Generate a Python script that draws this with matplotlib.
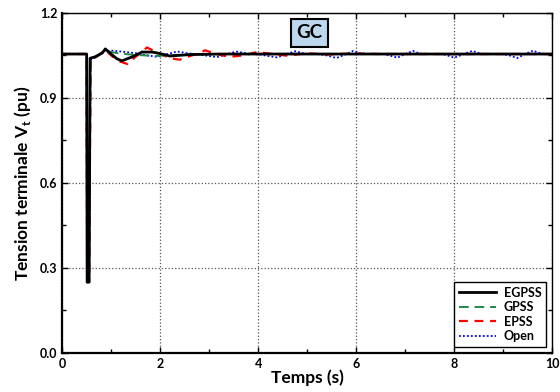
import numpy as np
import matplotlib.pyplot as plt
from matplotlib.ticker import MultipleLocator

plt.rcParams['font.family'] = ['Lato', 'DejaVu Sans']
plt.rcParams['font.weight'] = 'bold'
plt.rcParams['mathtext.fontset'] = 'custom'
plt.rcParams['mathtext.bf'] = 'Lato:bold'
plt.rcParams['mathtext.rm'] = 'Lato:bold'

# reponses de la tension terminale (pu) en fonction du temps (s)
t_egpss = [0, 0.5, 0.51, 0.55, 0.57, 0.67, 0.82, 0.88, 1.02, 1.12, 1.22, 1.43, 1.63,
           1.84, 2.04, 2.2, 2.6, 3.2, 10]
v_egpss = [1.055, 1.055, 0.25, 0.25, 1.04, 1.045, 1.059, 1.073, 1.052, 1.038, 1.031, 1.045,
           1.062, 1.062, 1.055, 1.048, 1.053, 1.055, 1.055]

t_gpss = [0, 0.5, 0.51, 0.55, 0.58, 0.7, 0.88, 1.0, 1.2, 1.5, 1.9, 2.2, 2.6, 3.2, 10]
v_gpss = [1.055, 1.055, 0.25, 0.25, 1.035, 1.045, 1.066, 1.062, 1.056, 1.052, 1.048,
          1.051, 1.054, 1.055, 1.055]

t_epss = [0, 0.5, 0.51, 0.55, 0.58, 0.7, 0.88, 1.0, 1.15, 1.33, 1.5, 1.73, 1.95, 2.2,
          2.4, 2.65, 2.92, 3.15, 3.4, 3.7, 3.98, 4.3, 4.6, 5.0, 5.4, 5.9, 6.5, 10]
v_epss = [1.055, 1.055, 0.25, 0.25, 1.035, 1.045, 1.07, 1.05, 1.03, 1.02, 1.045, 1.078,
          1.06, 1.04, 1.035, 1.05, 1.068, 1.055, 1.045, 1.05, 1.062, 1.055, 1.049, 1.058,
          1.053, 1.057, 1.055, 1.055]

t_open = [0, 0.5, 0.51, 0.55, 0.58, 0.7, 0.85, 1.0, 1.2, 1.5, 1.75, 1.94, 2.15, 2.35,
          2.55, 2.8, 3.0, 3.16, 3.37, 3.55, 3.8, 4.05, 4.2, 4.39, 4.58, 4.76, 4.95, 5.2,
          5.4, 5.6, 5.8, 5.94, 6.1, 6.55, 6.7, 6.84, 7.0, 7.16, 7.3, 7.75, 7.88, 8.0,
          8.2, 8.37, 8.55, 9.0, 9.15, 9.29, 9.45, 9.61, 9.78, 10]
v_open = [1.055, 1.055, 0.25, 0.25, 1.035, 1.045, 1.065, 1.067, 1.064, 1.058, 1.05, 1.045,
          1.055, 1.064, 1.058, 1.053, 1.048, 1.044, 1.055, 1.064, 1.056, 1.053, 1.048,
          1.043, 1.055, 1.065, 1.056, 1.055, 1.05, 1.041, 1.055, 1.066, 1.056, 1.055,
          1.049, 1.042, 1.055, 1.066, 1.056, 1.055, 1.049, 1.042, 1.055, 1.066, 1.056,
          1.055, 1.049, 1.041, 1.055, 1.067, 1.056, 1.055]

fig = plt.figure(figsize=(5.6, 3.92), dpi=100)
ax = fig.add_axes([0.111, 0.0995, 0.875, 0.8675])

ax.plot(t_open, v_open, color='blue', ls=(0, (1, 1.2)), lw=1.3, label='Open', zorder=3)
ax.plot(t_epss, v_epss, color='red', ls=(0, (4, 3)), lw=1.6, label='EPSS', zorder=4)
ax.plot(t_gpss, v_gpss, color='#1e8a4a', ls=(0, (5, 3)), lw=1.4, label='GPSS', zorder=5)
ax.plot(t_egpss, v_egpss, color='black', lw=2.0, label='EGPSS', zorder=6)

ax.set_xlim(0, 10)
ax.set_ylim(0, 1.2)
ax.xaxis.set_major_locator(MultipleLocator(2))
ax.xaxis.set_minor_locator(MultipleLocator(1))
ax.yaxis.set_major_locator(MultipleLocator(0.3))
ax.yaxis.set_minor_locator(MultipleLocator(0.15))
ax.yaxis.set_major_formatter(plt.FormatStrFormatter('%.1f'))
ax.tick_params(which='both', direction='in', top=True, right=True, labelsize=9)
ax.tick_params(which='major', length=4, width=1)
ax.tick_params(which='minor', length=3, width=1)
ax.grid(True, which='major', ls=':', color='#555555', lw=0.9)

for s in ['left', 'bottom']:
    ax.spines[s].set_linewidth(1.6)
for s in ['top', 'right']:
    ax.spines[s].set_linewidth(1.0)

ax.set_xlabel('Temps (s)', fontsize=12.5, fontweight='bold', labelpad=0)
ax.set_ylabel(r'Tension terminale V$_\mathbf{t}$ (pu)', fontsize=12.5, fontweight='bold', labelpad=5)

ax.text(5.05, 1.13, 'GC', fontsize=13.5, fontweight='bold', ha='center', va='center',
        bbox=dict(boxstyle='square,pad=0.3', fc='#bdd7ee', ec='black', lw=1.5), zorder=7)

h, l = ax.get_legend_handles_labels()
leg = ax.legend(h[::-1], l[::-1], loc='lower right', fontsize=9, fancybox=False,
                edgecolor='black', framealpha=1, handlelength=3, borderaxespad=0.5,
                labelspacing=0.2, borderpad=0.35, handletextpad=0.6)
leg.get_frame().set_linewidth(1.0)

fig.savefig('out.png', dpi=100)
